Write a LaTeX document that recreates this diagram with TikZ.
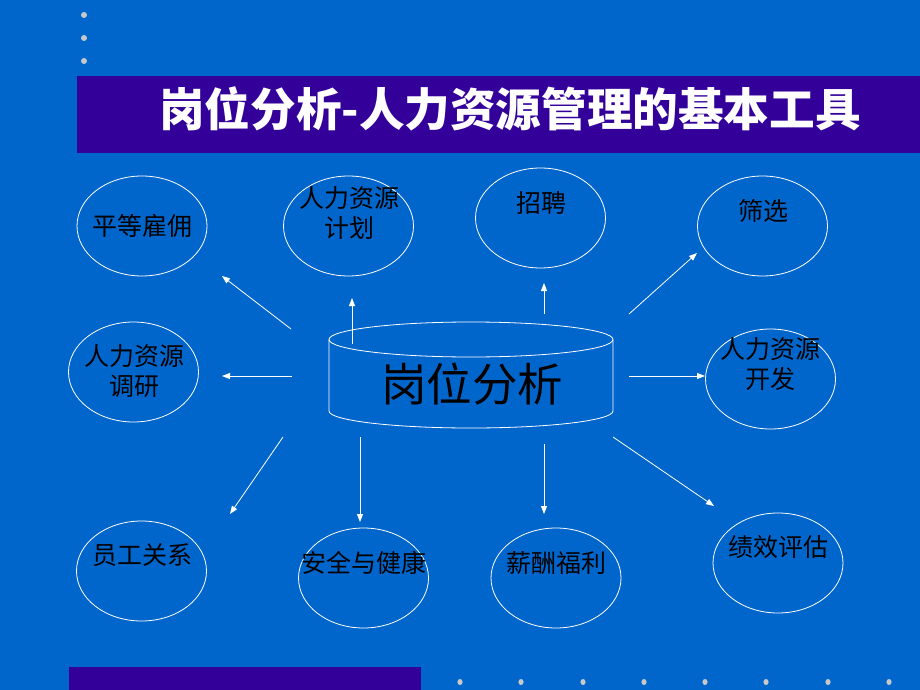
\documentclass[tikz,border=0pt]{standalone}
\usepackage{fontspec}
\newfontfamily\cjk{Noto Sans CJK SC}
\usetikzlibrary{arrows.meta,shapes.geometric}
\definecolor{bgblue}{HTML}{0066CC}
\definecolor{barviolet}{HTML}{330099}
\definecolor{dotgray}{HTML}{C8C8C8}
\tikzset{
  ell/.style={draw=white, line width=0.8pt, ellipse, minimum width=130pt, minimum height=100pt, inner sep=0pt},
  lbl/.style={font=\cjk\fontsize{25}{30}\selectfont, text=black, align=center, inner sep=0pt},
  arr/.style={draw=white, line width=0.8pt, -{Triangle[length=8pt,width=6pt]}},
  dot/.style={fill=dotgray, draw=none},
  cyl/.style={draw=white, line width=0.8pt}
}
\begin{document}
\begin{tikzpicture}[x=1pt,y=-1pt]
\fill[bgblue] (0,0) rectangle (920,690);
\useasboundingbox (0,0) rectangle (920,690);
% top-left dots
\foreach \yy in {15,38,61} \fill[dot] (84,\yy) circle[radius=3pt];
% title bar
\fill[barviolet] (77,76) rectangle (920,153);
\node[font=\cjk\bfseries\fontsize{45.6}{50}\selectfont, text=white, anchor=west, inner sep=0pt] (title) at (159,109) {岗位分析-人力资源管理的基本工具};
% bottom bar and dots
\fill[barviolet] (69,667) rectangle (421,690);
\foreach \xx in {460,521,583,644,705,766,828,889} \fill[dot] (\xx,682) ellipse[x radius=2.6pt, y radius=3pt];
% cylinder
\draw[cyl] (471,339.5) ellipse[x radius=142pt, y radius=17.5pt];
\draw[cyl] (329,339.5) -- (329,411) arc[start angle=180, end angle=360, x radius=142pt, y radius=17pt] -- (613,339.5);
\node[font=\cjk\fontsize{45.5}{50}\selectfont, text=black, inner sep=0pt] (job) at (472,384) {岗位分析};
% ellipses
\node[ell] (e1) at (142,226) {};
\node[ell] (e2) at (348.5,226) {};
\node[ell] (e3) at (540.5,218) {};
\node[ell] (e4) at (762.5,226) {};
\node[ell] (e5) at (770.5,379) {};
\node[ell] (e6) at (133.5,372) {};
\node[ell] (e7) at (141.5,571) {};
\node[ell] (e8) at (363.5,578) {};
\node[ell] (e9) at (556,578) {};
\node[ell] (e10) at (778,563) {};
% labels
\node[lbl] (t1) at (142,226) {平等雇佣};
\node[lbl] (t2) at (349,213) {人力资源\\计划};
\node[lbl] (t3) at (541,203) {招聘};
\node[lbl] (t4) at (763,211) {筛选};
\node[lbl] (t5) at (770,364) {人力资源\\开发};
\node[lbl] (t6) at (134,371) {人力资源\\调研};
\node[lbl] (t7) at (142,555) {员工关系};
\node[lbl] (t8) at (364,563) {安全与健康};
\node[lbl] (t9) at (556,563) {薪酬福利};
\node[lbl] (t10) at (778,547) {绩效评估};
% arrow end coordinates
\coordinate (s1) at (291,329);   \coordinate (d1) at (222,276);
\coordinate (s2) at (352,344);   \coordinate (d2) at (352,298);
\coordinate (s3) at (544,314);   \coordinate (d3) at (544,283);
\coordinate (s4) at (629,314);   \coordinate (d4) at (697,253);
\coordinate (s5) at (629,376);   \coordinate (d5) at (705,376);
\coordinate (s6) at (292,376);   \coordinate (d6) at (222,376);
\coordinate (s7) at (283,437);   \coordinate (d7) at (230,514);
\coordinate (s8) at (360,437);   \coordinate (d8) at (360,522);
\coordinate (s9) at (544,444);   \coordinate (d9) at (544,514);
\coordinate (s10) at (613,437);  \coordinate (d10) at (714,506);
\foreach \i in {1,...,10} \draw[arr] (s\i) -- (d\i);
\end{tikzpicture}
\end{document}
